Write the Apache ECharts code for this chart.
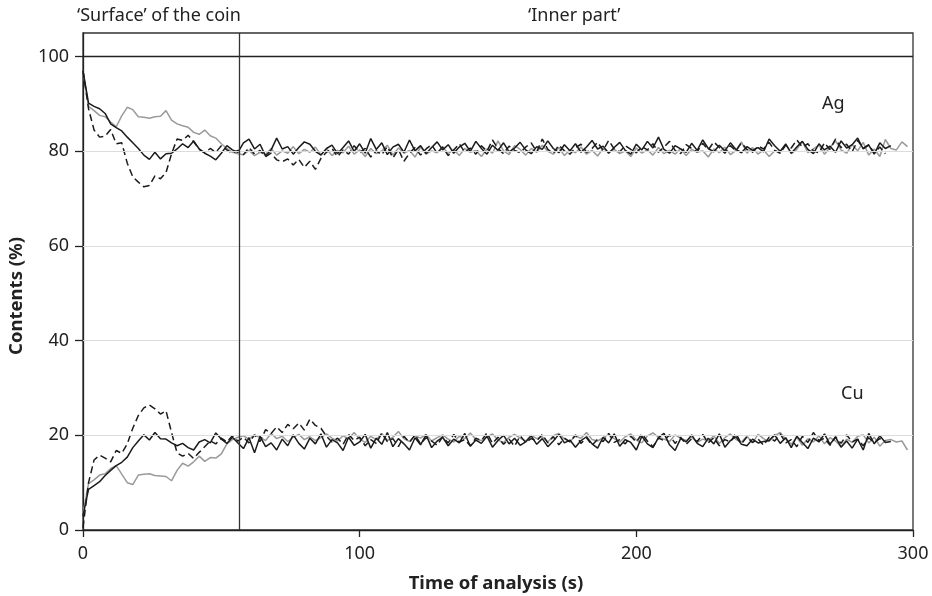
<!DOCTYPE html>
<html>
<head>
<meta charset="utf-8">
<script src="https://cdn.jsdelivr.net/npm/echarts@6/dist/echarts.min.js"></script>
<style>html,body{margin:0;padding:0;background:#fff}#c{width:932px;height:596px}</style>
</head>
<body>
<div id="c"></div>
<script>
// Time of analysis (s), sampled every 2 s
var times = [0,2,4,6,8,10,12,14,16,18,20,22,24,26,28,30,32,34,36,38,40,42,44,46,48,50,52,54,56,58,60,62,64,66,68,70,72,74,76,78,80,82,84,86,88,90,92,94,96,98,100,102,104,106,108,110,112,114,116,118,120,122,124,126,128,130,132,134,136,138,140,142,144,146,148,150,152,154,156,158,160,162,164,166,168,170,172,174,176,178,180,182,184,186,188,190,192,194,196,198,200,202,204,206,208,210,212,214,216,218,220,222,224,226,228,230,232,234,236,238,240,242,244,246,248,250,252,254,256,258,260,262,264,266,268,270,272,274,276,278,280,282,284,286,288,290,292,294,296,298];

// Ag contents (%)
var agBlack = [97,90.2,89.5,89,88,85.8,85,84.3,83,81.8,80.6,79.2,78.3,79.8,78.4,79.5,79.6,80.5,81.6,80.8,82.2,80.5,79.6,79,78.2,79.6,81.2,80.3,79.8,81.8,82.6,80.5,81.5,79,80.3,82.8,80.5,81,79.4,80.8,82,81.5,80,79.2,80.6,81.3,79.5,80.8,82.2,80,81.6,79.6,82.7,80.4,81.8,79.3,80.9,81.5,79.8,82.4,80.1,81.2,79.5,80.8,82,80.3,81.4,79.6,80.9,81.7,80,82.1,80.6,79.4,81.3,80.2,81.8,79.9,80.7,81.9,80.3,79.5,81,80.4,82.2,80.6,79.7,81.4,80.1,81.6,79.8,80.9,82.3,80.5,81.1,79.6,80.8,81.9,80.2,79.4,81.5,80.3,82.1,80.7,83,80.4,79.6,81.2,80.5,79.8,81.7,80.2,82.4,80.6,79.9,81.3,80.1,81.8,80.4,79.7,81,80.2,80.8,79.9,82.6,81.2,80,81.5,79.6,80.9,82.1,80.4,79.5,81.6,80.3,81.1,79.8,82.2,80.7,81.4,82.8,80.5,81.3,79.4,81.8,80.6,81.2];
var agDash = [97,89,84.5,83,83.2,84.6,81.6,81.8,77.5,74.6,73.5,72.5,72.8,74.8,74.2,75.5,79.5,82.6,82.3,83.4,82,80.4,79.7,80.6,79.8,81.2,80.3,79.6,80.2,79.3,80.8,79.4,80.2,78.9,79.6,78.2,77.8,78.4,77.1,78.3,76.6,77.9,76.2,78.5,79.8,80.6,78.9,80.3,79.4,81.2,79.8,80.6,78.8,80.1,79.3,81,78.6,80.4,77.9,79.6,80.8,79.2,80.5,81.4,79.6,80.9,79.1,80.3,81.6,79.8,80.7,79.4,81.2,80,82.4,80.6,79.5,81.1,80.2,79.7,80.9,81.8,79.9,82.6,80.4,79.6,81.3,80.1,79.4,80.8,81.5,79.8,80.6,81.9,80.2,82.3,80.5,79.9,81.2,80.4,79.7,81,80.3,81.6,79.8,80.9,82.1,80.2,79.5,81.4,80.6,79.9,81.7,80.3,82,80.8,79.6,81.2,80.1,81.8,80.4,79.8,81.1,80.5,81.9,80.2,79.6,81.3,80.7,82.4,80.9,81.6,80.1,79.7,81.8,80.4,82.6,80.8,81.5,79.9,82.3,80.6,81.4,79.6,80.9,79.5];
var agGray = [97,89.5,88.6,87.6,87.3,86.2,85.2,87.5,89.3,88.8,87.3,87.2,87,87.3,87.4,88.6,86.6,85.8,85.4,85.1,84,83.6,84.5,83.3,82.8,81.6,80.6,79.8,79.5,79.3,80.2,79.1,79.8,79.4,80.6,79.2,80.1,79.6,81,79.5,80.4,79.8,80.9,79.3,80.5,79.1,80.2,79.7,81.1,79.4,80.3,78.9,80.6,79.5,80.1,81.3,79.2,80.7,79.6,80.2,78.8,80.9,79.4,80.1,79.7,81,79.5,80.4,79.1,80.6,79.8,80.2,78.9,80.5,79.6,82.2,80.1,79.3,81.2,80.4,79.2,80.6,79.8,81.3,80,79.4,80.8,79.1,80.3,79.7,80.9,79.4,80.2,79,80.6,79.8,80.4,79.5,80.1,78.9,80.7,79.6,80.3,79.2,80.8,79.5,80.2,79.4,80.6,79.1,80.4,79.8,80.1,78.8,80.5,79.7,80.9,79.3,80.2,82,79.6,80.8,79.4,80.3,78.9,80.1,79.8,81.6,79.5,80.4,82.1,79.7,80.5,81.3,79.4,80.8,82.2,80.3,79.6,81.4,80.1,81.9,79.2,80.5,78.9,82.5,80.6,80.3,82,81];

// Cu contents (%)
var cuBlack = [3,8.6,9.4,10.2,11.5,12.6,13.6,14.3,15.4,17.4,18.8,20.1,19,20.6,19.3,19.2,18.4,17.8,18.3,17.4,16.9,18.6,19.1,18.4,20.5,19.2,18.3,19.6,18.4,17.2,19.5,16.3,19.8,17.6,18.4,16.9,19.2,17.8,20.1,18.3,17.1,19.4,18.2,20.3,17.5,19.1,18.4,16.8,19.6,17.9,18.6,20.2,17.3,19.4,18.1,20.6,17.6,19.3,18.2,16.9,19.5,18,20.1,17.4,18.8,19.6,17.8,19.2,18.4,20.4,17.7,19,18.3,19.8,17.5,18.9,20,18.2,19.4,17.9,18.6,19.9,18.1,19.3,17.6,18.8,20.2,18.4,19,17.5,18.9,19.7,18.2,17.3,19.6,18.4,20.3,17.7,19.1,18.5,16.9,19.8,18.2,17.4,19.5,20.4,18,16.8,19.3,18.6,20.1,18.3,17.6,19.4,18.2,20.3,17.5,18.9,19.7,18.1,17.8,19.2,18.4,18.7,18.9,20.1,18.3,19.5,17.4,19.8,18.5,17.2,19.4,18.6,20.3,18.1,19.6,17.5,18.8,17.3,19.2,16.9,20.4,18.2,19.9,18.5,18.7];
var cuDash = [0.5,10,14.8,15.8,15.2,14.4,16.8,16.2,18.2,21.5,24.2,25.8,26.4,25.6,24.5,25.2,20.6,16.3,15.6,16.2,15.1,16.4,17.6,18.8,18.2,19.4,18.6,19.9,18.8,19.6,18.4,20.1,18.7,21.2,20.4,21.8,20.6,22.3,21.4,22.6,21.1,23.4,22.1,21.5,19.8,18.6,19.4,18.1,20.2,18.9,19.6,17.8,19.1,18.3,20.5,18.7,19.3,17.6,19.8,18.5,20.1,18.2,19.5,18.8,17.9,19.7,18.4,20.2,18.6,19.1,17.8,19.4,18.9,20.5,18.3,19.6,18.1,19.2,17.7,19.9,18.5,19.3,18.8,20.2,18.4,19.7,18,19.4,18.6,20.1,18.3,19.5,17.9,19.2,18.7,20.4,18.5,19.1,18.2,19.8,18.6,20.3,18.8,17.6,19.4,18.9,20.1,18.3,19.6,18.1,19.3,18.7,20.2,18.4,19.5,17.8,19.1,18.6,20.4,18.2,19.7,18.5,19.2,17.9,19.6,18.8,20.3,18.4,19.1,17.6,19.8,18.5,20.6,18.9,19.4,17.9,19.7,18.3,20.1,18.6,19.2,17.8,19.5,18.4,19.3,18.8];
var cuGray = [3.5,9.8,10.6,11.6,11.9,13,13.6,11.8,10,9.6,11.6,11.8,11.9,11.5,11.4,11.3,10.4,12.6,14.1,13.5,14.4,15.6,14.5,15.3,15.2,16.1,18.2,19.1,19.6,19.9,19.2,20.1,19.5,18.9,20.4,19.3,19.8,18.7,19.6,20.2,19.1,19.7,18.9,19.5,20.3,19.4,18.8,19.9,19.3,20.6,19.2,18.5,19.8,19.1,20.4,18.9,19.6,20.8,19.3,18.7,19.9,19.4,20.2,18.8,19.5,20.1,19.2,18.6,19.8,19.3,20.5,19.1,18.9,19.7,20.3,19,18.5,19.6,20.2,19.4,18.8,20,19.3,19.7,18.6,19.9,20.4,19.2,18.7,19.8,19.4,20.6,19.1,18.8,19.5,20.2,19.3,18.6,19.7,20.3,19,18.4,19.9,20.5,19.6,19.2,18.7,20.1,19.4,18.9,19.6,18.5,19.2,18.8,19.9,18.3,19.5,20.3,19.1,18.6,19.8,18.4,20.2,19.3,18.7,19.9,20.6,19.2,18.1,19.6,17.9,19.3,18.6,19.9,18.2,19.5,18.8,17.6,19.2,18.5,19.8,20.1,18.4,19.6,17.7,18.9,19.1,18.6,18.8,16.9];

var yTicks = [0, 20, 40, 60, 80, 100];
var xTicks = [0, 100, 200, 300];
var zoneBoundary = 56.3;   // end of 'Surface' zone (s)
var headerLabels = ['\u2018Surface\u2019 of the coin', '\u2018Inner part\u2019'];
var elementLabels = ['Ag', 'Cu'];

function pairs(vals) {
  var out = [];
  for (var i = 0; i < vals.length; i++) out.push([times[i], vals[i]]);
  return out;
}

var FONT = 'Noto Sans';
var BLACK = '#1b1b1b', GRAY = '#9a9a9a';

function lineSeries(name, vals, color, dashed, z) {
  return {
    name: name, type: 'line', data: pairs(vals), showSymbol: false, smooth: false,
    z: z, silent: true,
    lineStyle: { color: color, width: 1.5, type: dashed ? [7, 4] : 'solid' }
  };
}

var series = [
  lineSeries('Ag gray', agGray, GRAY, false, 2),
  lineSeries('Cu gray', cuGray, GRAY, false, 2),
  lineSeries('Ag dashed', agDash, BLACK, true, 3),
  lineSeries('Cu dashed', cuDash, BLACK, true, 3),
  lineSeries('Ag black', agBlack, BLACK, false, 4),
  lineSeries('Cu black', cuBlack, BLACK, false, 4)
];

// reference lines (gridlines, 100 % line and zone boundary)
series.push({
  type: 'line', data: [], z: 1, silent: true,
  markLine: {
    symbol: 'none', silent: true, animation: false, label: { show: false },
    data: [
      { yAxis: 20, lineStyle: { color: '#dcdcdc', width: 1, type: 'solid' } },
      { yAxis: 40, lineStyle: { color: '#dcdcdc', width: 1, type: 'solid' } },
      { yAxis: 60, lineStyle: { color: '#dcdcdc', width: 1, type: 'solid' } },
      { yAxis: 80, lineStyle: { color: '#dcdcdc', width: 1, type: 'solid' } },
      { yAxis: 100, lineStyle: { color: '#222', width: 1.3, type: 'solid' } },
      { xAxis: zoneBoundary, lineStyle: { color: '#333', width: 1.3, type: 'solid' } }
    ]
  }
});

var chart = echarts.init(document.getElementById('c'), null, { renderer: 'canvas' });
chart.setOption({
  animation: false,
  backgroundColor: '#fff',
  textStyle: { fontFamily: FONT },
  grid: { left: 83, right: 19, top: 33, bottom: 66, show: true, borderColor: '#333', borderWidth: 1.3, backgroundColor: 'transparent' },
  xAxis: {
    type: 'value', min: 0, max: 300, interval: 100,
    axisLine: { lineStyle: { color: '#222', width: 1.3 } },
    axisTick: { show: true, length: 7, lineStyle: { color: '#222', width: 1.3 }, customValues: xTicks },
    axisLabel: { color: '#222', fontSize: 18, fontFamily: FONT, margin: 15, customValues: xTicks },
    splitLine: { show: false }
  },
  yAxis: {
    type: 'value', min: 0, max: 105, interval: 20,
    axisLine: { show: true, lineStyle: { color: '#222', width: 1.3 } },
    axisTick: { show: true, length: 8, lineStyle: { color: '#222', width: 1.3 }, customValues: yTicks },
    axisLabel: { color: '#222', fontSize: 18, fontFamily: FONT, margin: 14, customValues: yTicks },
    splitLine: { show: false }
  },
  graphic: [
    { type: 'text', left: 77, top: 7, style: { text: headerLabels[0], font: '18px "Noto Sans"', fill: '#222' } },
    { type: 'text', left: 528, top: 7, style: { text: headerLabels[1], font: '18px "Noto Sans"', fill: '#222' } },
    { type: 'text', left: 822, top: 95, style: { text: elementLabels[0], font: '18px "Noto Sans"', fill: '#222' } },
    { type: 'text', left: 841, top: 385, style: { text: elementLabels[1], font: '18px "Noto Sans"', fill: '#222' } },
    { type: 'text', x: 17, y: 296, rotation: Math.PI / 2, style: { text: 'Contents (%)', font: 'bold 18.5px "Noto Sans"', fill: '#222', align: 'center', verticalAlign: 'middle' } },
    { type: 'text', x: 496, y: 584, style: { text: 'Time of analysis (s)', font: 'bold 18.5px "Noto Sans"', fill: '#222', align: 'center', verticalAlign: 'middle' } }
  ],
  series: series
});
</script>
</body>
</html>
